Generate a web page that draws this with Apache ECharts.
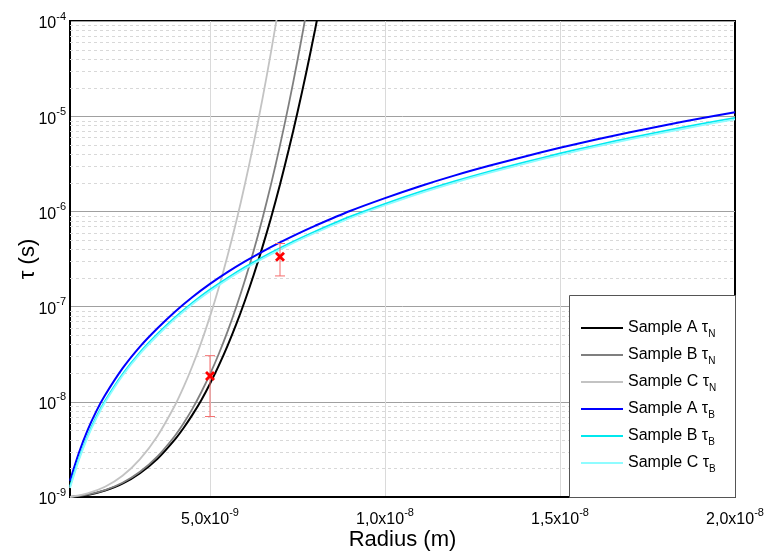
<!DOCTYPE html>
<html>
<head>
<meta charset="utf-8">
<script src="https://cdn.jsdelivr.net/npm/echarts@6/dist/echarts.min.js"></script>
<style>
html, body { margin: 0; padding: 0; background: #fff; }
#main { width: 769px; height: 551px; }
</style>
</head>
<body>
<div id="main"></div>
<script>
// radius in nm (axis labels are written in m)
var radiusN = [1, 1.5, 2, 2.5, 3, 3.5, 4, 4.25, 4.5, 4.75, 5, 5.25, 5.5, 5.75, 6, 6.25, 6.5, 6.75, 7, 7.25, 7.5, 7.75, 8, 8.25, 8.5];
var radiusB = [1, 1.25, 1.5, 1.75, 2, 2.5, 3, 3.5, 4, 4.5, 5, 5.5, 6, 6.5, 7, 7.5, 8, 9, 10, 11, 12, 13, 14, 15, 16, 17, 18, 19, 20];

// Neel relaxation time (s)
var tauNA = [1.00e-9, 1.05e-9, 1.17e-9, 1.38e-9, 1.78e-9, 2.52e-9, 4.03e-9, 5.34e-9, 7.33e-9, 1.04e-8,
    1.55e-8, 2.40e-8, 3.87e-8, 6.53e-8, 1.16e-7, 2.16e-7, 4.24e-7, 8.75e-7, 1.92e-6, 4.46e-6,
    1.10e-5, 2.88e-5, 8.05e-5, 2.40e-4, 7.69e-4];
var tauNB = [1.00e-9, 1.06e-9, 1.18e-9, 1.41e-9, 1.84e-9, 2.67e-9, 4.40e-9, 5.98e-9, 8.47e-9, 1.26e-8,
    1.95e-8, 3.18e-8, 5.46e-8, 9.89e-8, 1.90e-7, 3.88e-7, 8.47e-7, 1.97e-6, 4.94e-6, 1.33e-5,
    3.87e-5, 1.22e-4, 4.18e-4];
var tauNC = [1.00e-9, 1.09e-9, 1.28e-9, 1.67e-9, 2.50e-9, 4.38e-9, 9.20e-9, 1.44e-8, 2.39e-8, 4.21e-8,
    7.89e-8, 1.58e-7, 3.40e-7, 7.82e-7, 1.95e-6, 5.24e-6, 1.53e-5, 4.89e-5, 1.71e-4, 6.55e-4];

// Brown relaxation time (s)
var tauBA = [1.48e-9, 2.88e-9, 5.01e-9, 7.94e-9, 1.17e-8, 2.24e-8, 3.80e-8, 5.92e-8, 8.83e-8, 1.26e-7,
    1.73e-7, 2.30e-7, 2.98e-7, 3.79e-7, 4.73e-7, 5.82e-7, 7.06e-7, 1.01e-6, 1.38e-6, 1.84e-6,
    2.39e-6, 3.03e-6, 3.78e-6, 4.66e-6, 5.65e-6, 6.78e-6, 8.05e-6, 9.46e-6, 1.10e-5];
var tauBB = [1.29e-9, 2.51e-9, 4.36e-9, 6.92e-9, 1.02e-8, 1.95e-8, 3.31e-8, 5.16e-8, 7.69e-8, 1.10e-7,
    1.51e-7, 2.00e-7, 2.60e-7, 3.30e-7, 4.12e-7, 5.07e-7, 6.15e-7, 8.80e-7, 1.20e-6, 1.60e-6,
    2.08e-6, 2.64e-6, 3.29e-6, 4.06e-6, 4.92e-6, 5.91e-6, 7.01e-6, 8.24e-6, 9.58e-6];
var tauBC = [1.24e-9, 2.42e-9, 4.21e-9, 6.67e-9, 9.83e-9, 1.88e-8, 3.19e-8, 4.97e-8, 7.42e-8, 1.06e-7,
    1.45e-7, 1.93e-7, 2.50e-7, 3.18e-7, 3.97e-7, 4.89e-7, 5.93e-7, 8.48e-7, 1.16e-6, 1.55e-6,
    2.01e-6, 2.55e-6, 3.18e-6, 3.91e-6, 4.75e-6, 5.70e-6, 6.76e-6, 7.95e-6, 9.24e-6];

// measured points with error bars
var expRadius = [5, 7];
var expTau = [1.87e-8, 3.34e-7];
var expLow = [7.0e-9, 2.1e-7];
var expHigh = [3.05e-8, 4.6e-7];

var seriesNames = ['Sample A τ_N', 'Sample B τ_N', 'Sample C τ_N', 'Sample A τ_B', 'Sample B τ_B', 'Sample C τ_B'];
var seriesColors = ['#000000', '#7f7f7f', '#c3c3c3', '#0000ff', '#00e8ee', '#8ffcff'];

var font = 'Arial, "Liberation Sans", sans-serif';

function pairs(xs, ys) {
    var out = [];
    for (var i = 0; i < ys.length; i++) {
        out.push([xs[i], ys[i]]);
    }
    return out;
}

var curves = [
    pairs(radiusN, tauNA), pairs(radiusN, tauNB), pairs(radiusN, tauNC),
    pairs(radiusB, tauBA), pairs(radiusB, tauBB), pairs(radiusB, tauBC)
];

// dashed minor grid lines at 2..9 x 10^n
var minorValues = [];
for (var e = -9; e < -4; e++) {
    for (var m = 2; m <= 9; m++) {
        minorValues.push(m * Math.pow(10, e));
    }
}

var supRich = {
    b: {fontSize: 16, fontFamily: font, color: '#000', lineHeight: 26},
    s: {fontSize: 11, fontFamily: font, color: '#000', verticalAlign: 'top'}
};

var chart = echarts.init(document.getElementById('main'));

var series = [{
    name: 'minor',
    type: 'custom',
    silent: true,
    z: 1,
    data: minorValues.map(function (v) { return [radiusB[0], v]; }),
    encode: {x: 0, y: 1},
    renderItem: function (params, api) {
        var cs = params.coordSys;
        var p = api.coord([api.value(0), api.value(1)]);
        return {
            type: 'line',
            shape: {x1: cs.x, y1: Math.round(p[1]) + 0.5, x2: cs.x + cs.width, y2: Math.round(p[1]) + 0.5},
            style: {stroke: '#d8d8d8', lineWidth: 1, lineDash: [3, 3]}
        };
    }
}];

for (var i = 0; i < curves.length; i++) {
    series.push({
        name: seriesNames[i],
        type: 'line',
        data: curves[i],
        smooth: 0.3,
        symbol: 'none',
        clip: true,
        z: 3,
        color: seriesColors[i],
        lineStyle: {width: i == 0 || i == 3 ? 2 : 1.8, color: seriesColors[i]}
    });
}

series.push({
    name: 'measured',
    type: 'custom',
    z: 6,
    data: expRadius.map(function (r, k) {
        return [r, expTau[k], expLow[k], expHigh[k]];
    }),
    encode: {x: 0, y: 1},
    renderItem: function (params, api) {
        var x = api.value(0);
        var p = api.coord([x, api.value(1)]);
        var lo = api.coord([x, api.value(2)]);
        var hi = api.coord([x, api.value(3)]);
        var c = 5, s = 4;
        var bar = {stroke: '#f46c6c', lineWidth: 1};
        var mark = {stroke: '#ff0000', lineWidth: 2.8};
        return {
            type: 'group',
            children: [
                {type: 'line', shape: {x1: lo[0], y1: lo[1], x2: hi[0], y2: hi[1]}, style: bar},
                {type: 'line', shape: {x1: lo[0] - c, y1: lo[1], x2: lo[0] + c, y2: lo[1]}, style: bar},
                {type: 'line', shape: {x1: hi[0] - c, y1: hi[1], x2: hi[0] + c, y2: hi[1]}, style: bar},
                {type: 'line', shape: {x1: p[0] - s, y1: p[1] - s, x2: p[0] + s, y2: p[1] + s}, style: mark},
                {type: 'line', shape: {x1: p[0] - s, y1: p[1] + s, x2: p[0] + s, y2: p[1] - s}, style: mark}
            ]
        };
    }
});

var option = {
    backgroundColor: '#fff',
    animation: false,
    grid: {
        left: 70,
        right: 34,
        top: 21,
        bottom: 54,
        outerBoundsMode: 'none',
        containLabel: false,
        show: true,
        borderColor: '#000',
        borderWidth: 2,
        backgroundColor: 'transparent'
    },
    xAxis: {
        type: 'value',
        min: 1,
        max: 20,
        splitNumber: 4,
        name: 'Radius (m)',
        nameLocation: 'middle',
        nameGap: 32,
        nameMoveOverlap: false,
        nameTextStyle: {fontSize: 22, fontFamily: font, color: '#000'},
        axisLine: {lineStyle: {color: '#000', width: 2}},
        axisTick: {show: false},
        splitLine: {show: true, showMinLine: false, showMaxLine: false, lineStyle: {color: '#dadada', width: 1}},
        axisLabel: {
            showMinLabel: false,
            margin: 10,
            formatter: function (v) {
                var ex = Math.floor(Math.log10(v));
                var mant = (v / Math.pow(10, ex)).toFixed(1).replace('.', ',');
                return '{b|' + mant + 'x10}{s|' + (ex - 9) + '}';
            },
            rich: supRich
        }
    },
    yAxis: {
        type: 'log',
        logBase: 10,
        min: 1e-9,
        max: 1e-4,
        name: 'τ (s)',
        nameLocation: 'middle',
        nameGap: 31,
        nameMoveOverlap: false,
        nameRotate: 90,
        nameTextStyle: {fontSize: 22, fontFamily: font, color: '#000'},
        axisLine: {show: true, lineStyle: {color: '#000', width: 2}},
        axisTick: {show: false},
        splitLine: {show: true, showMinLine: false, showMaxLine: false, lineStyle: {color: '#a0a0a0', width: 1}},
        axisLabel: {
            margin: 4,
            padding: [6, 0, 0, 0],
            formatter: function (v) {
                return '{b|10}{s|' + Math.round(Math.log10(v)) + '}';
            },
            rich: supRich
        }
    },
    graphic: [{
        type: 'rect',
        z: 10,
        shape: {x: 569.5, y: 295.5, width: 166, height: 202},
        style: {fill: '#fff', stroke: '#555', lineWidth: 1}
    }],
    legend: {
        data: seriesNames,
        orient: 'vertical',
        left: 576,
        top: 315,
        z: 12,
        itemWidth: 42,
        itemHeight: 12,
        itemGap: 8,
        icon: 'path://M0,5L40,5L40,7L0,7Z',
        formatter: function (name) {
            var parts = name.split('_');
            return '{t|' + parts[0] + '}{sub|' + parts[1] + '}';
        },
        textStyle: {
            fontSize: 16,
            fontFamily: font,
            color: '#000',
            rich: {
                t: {fontSize: 16, fontFamily: font, color: '#000', lineHeight: 22},
                sub: {fontSize: 10, fontFamily: font, color: '#000', verticalAlign: 'bottom'}
            }
        }
    },
    series: series
};

chart.setOption(option);
</script>
</body>
</html>
